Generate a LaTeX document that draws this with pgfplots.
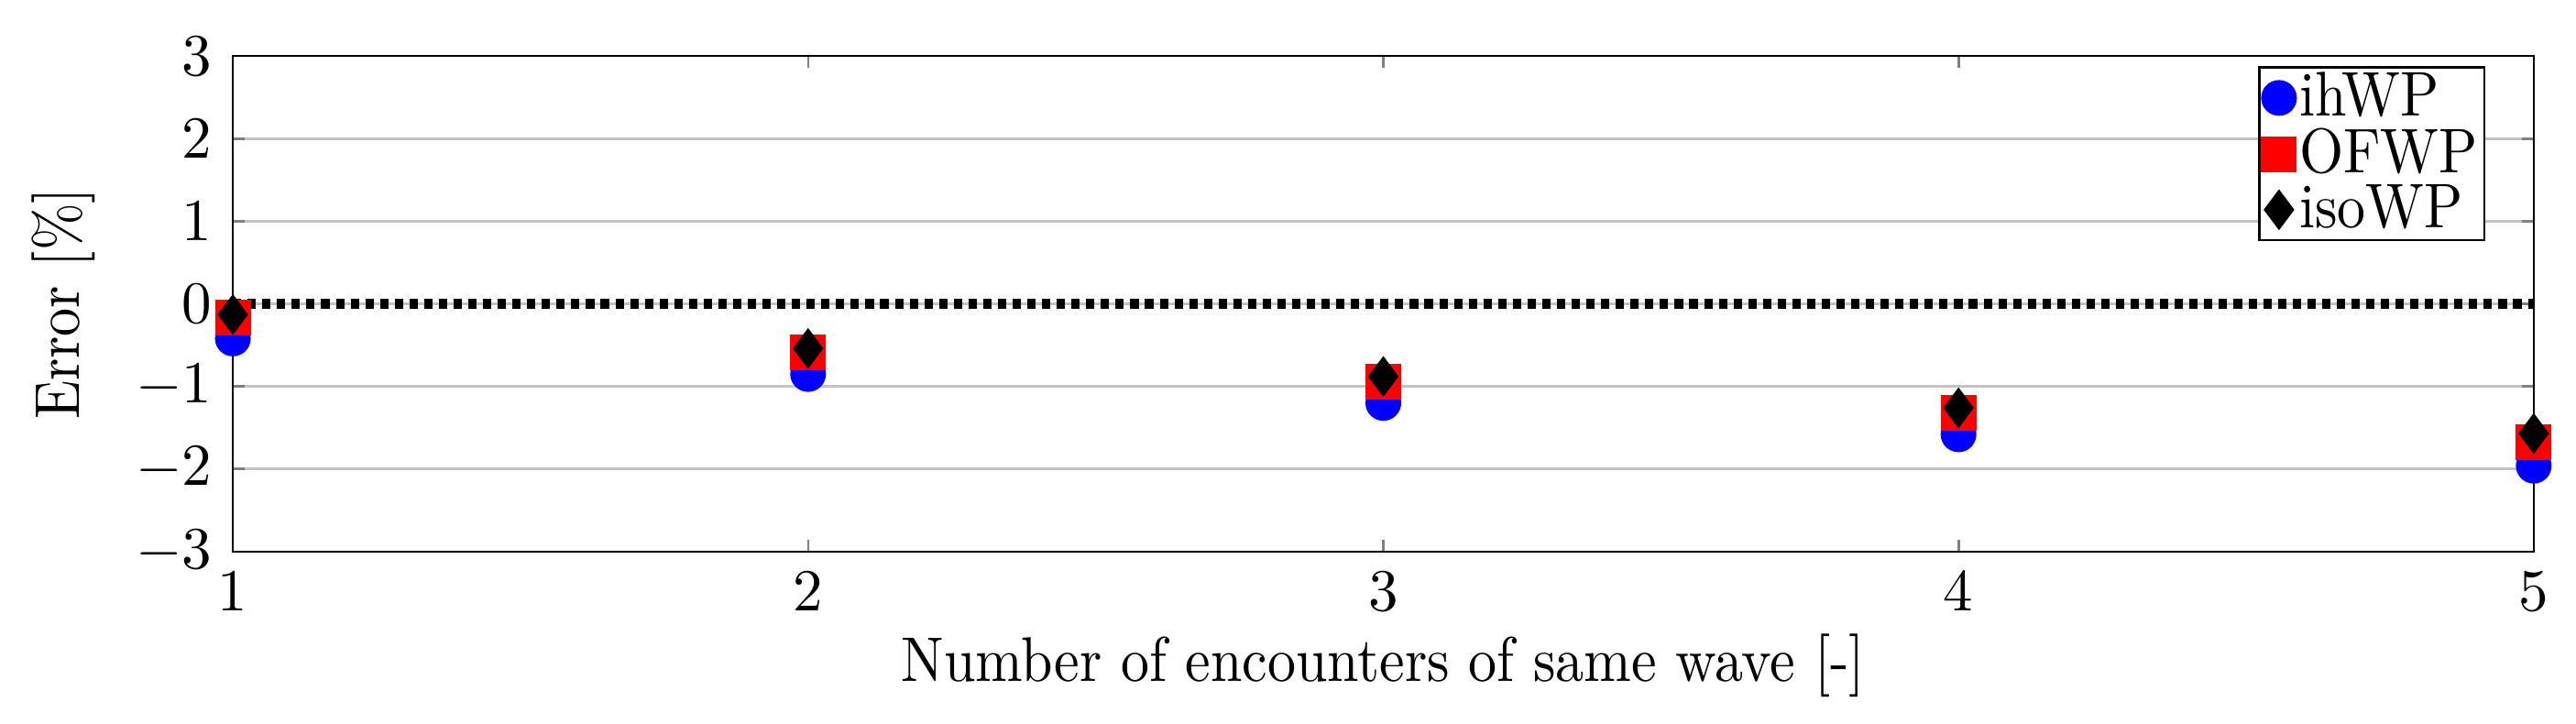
\documentclass[border=0pt]{standalone}
\usepackage{fontspec}
\setmainfont{Latin Modern Roman}[FakeStretch=0.9]
\usepackage{pgfplots}
\pgfplotsset{compat=1.18}

\definecolor{gridgray}{RGB}{195,195,195}

\begin{document}
\begin{tikzpicture}
\useasboundingbox (0,0) rectangle (432.5pt,121.5pt);
\begin{axis}[
    at={(39.1pt,28.9pt)},
    anchor=south west,
    scale only axis,
    width=386.3pt,
    height=83.2pt,
    xmin=1, xmax=5,
    ymin=-3, ymax=3,
    xtick={1,2,3,4,5},
    ytick={-3,-2,-1,0,1,2,3},
    ymajorgrids,
    major grid style={gridgray, line width=0.4pt},
    tick align=inside,
    major tick length=2pt,
    tick style={gray, line width=0.4pt},
    axis line style={black, line width=0.4pt},
    tick label style={font=\fontsize{10.3}{12}\selectfont},
    label style={font=\fontsize{10.6}{12}\selectfont},
    xlabel={Number of encounters of same wave [-]},
    ylabel={Error [\%]},
    xlabel style={yshift=3pt},
    clip=false,
    legend style={at={(0.979,0.98)}, anchor=north east, draw=black,
        font=\fontsize{10.6}{12}\selectfont,
        inner xsep=0.5pt, inner ysep=0.5pt, row sep=0pt,
        nodes={inner xsep=0.6pt, inner ysep=0.4pt, text depth=0.12em},
        legend cell align=left,
        /tikz/every even column/.append style={column sep=0pt}},
    legend image code/.code={\draw[#1] plot coordinates {(0pt,0pt)};},
]
\addplot[black, line width=1.8pt, dash pattern=on 1.4pt off 1.07pt, forget plot]
    coordinates {(1,0) (5,0)};

\addplot[only marks, mark=*, mark size=2.8pt, blue, mark options={fill=blue, draw=blue}]
    coordinates {(1,-0.42) (2,-0.85) (3,-1.20) (4,-1.58) (5,-1.96)};
\addlegendentry{ihWP}

\addplot[only marks, mark=square*, mark size=2.8pt, red, mark options={fill=red, draw=red}]
    coordinates {(1,-0.17) (2,-0.59) (3,-0.94) (4,-1.32) (5,-1.68)};
\addlegendentry{OFWP}

\addplot[only marks, mark=diamond*, mark size=3.1pt, black, mark options={fill=black, draw=black}]
    coordinates {(1,-0.13) (2,-0.54) (3,-0.88) (4,-1.26) (5,-1.57)};
\addlegendentry{isoWP}
\end{axis}
\end{tikzpicture}
\end{document}
